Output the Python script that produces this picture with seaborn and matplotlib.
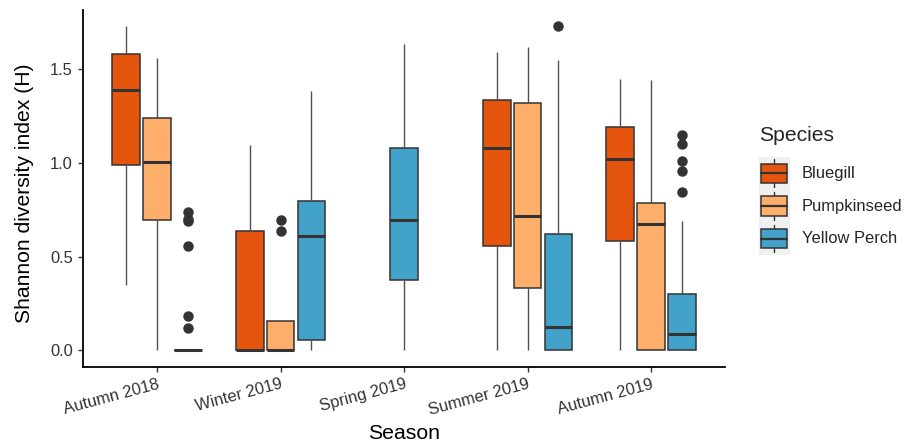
import numpy as np
import pandas as pd
import matplotlib
matplotlib.use("Agg")
import matplotlib.pyplot as plt
import seaborn as sns
from matplotlib.legend_handler import HandlerBase
from matplotlib.patches import Rectangle
from matplotlib.lines import Line2D

seasons = ["Autumn 2018", "Winter 2019", "Spring 2019", "Summer 2019", "Autumn 2019"]
species = ["Bluegill", "Pumpkinseed", "Yellow Perch"]
colors = ["#E6550D", "#FDAE6B", "#43A2CA"]

# Per season: lower whisker, Q1, median, Q3, upper whisker (None = not sampled)
bluegill_stats = [
    [0.35, 0.99, 1.39, 1.58, 1.73],
    [0.0, 0.0, 0.0, 0.635, 1.094],
    None,
    [0.0, 0.557, 1.08, 1.334, 1.59],
    [0.0, 0.583, 1.021, 1.194, 1.449],
]
pumpkinseed_stats = [
    [0.0, 0.695, 1.004, 1.238, 1.561],
    [0.0, 0.0, 0.0, 0.158, 0.158],
    None,
    [0.0, 0.335, 0.716, 1.321, 1.617],
    [0.0, 0.0, 0.676, 0.789, 1.445],
]
perch_stats = [
    [0.0, 0.0, 0.0, 0.0, 0.0],
    [0.0, 0.057, 0.612, 0.796, 1.387],
    [0.0, 0.376, 0.694, 1.08, 1.635],
    [0.0, 0.0, 0.124, 0.621, 1.55],
    [0.0, 0.0, 0.089, 0.30, 0.692],
]
# Observations beyond the upper fence
bluegill_outliers = [[], [], [], [], []]
pumpkinseed_outliers = [[], [0.635, 0.695], [], [], []]
perch_outliers = [
    [0.119, 0.185, 0.559, 0.69, 0.70, 0.741],
    [],
    [],
    [1.729],
    [0.848, 0.956, 1.013, 1.099, 1.151],
]


def sample_from_summary(stats, outliers):
    """Sorted sample whose linear quartiles, 1.5*IQR whiskers and fliers
    reproduce the given summary."""
    lo, q1, med, q3, hi = stats
    k = len(outliers) + 1
    vals = [lo] + [q1] * k + [med] * k + [q3] * k + [hi] + sorted(outliers)
    return vals


rows = []
for sp, st_list, out_list in zip(
    species,
    [bluegill_stats, pumpkinseed_stats, perch_stats],
    [bluegill_outliers, pumpkinseed_outliers, perch_outliers],
):
    for season, st, outs in zip(seasons, st_list, out_list):
        if st is None:
            continue
        for v in sample_from_summary(st, outs):
            rows.append({"Season": season, "Species": sp, "H": v})
df = pd.DataFrame(rows)

sns.set_theme(style="ticks")
plt.rcParams["font.family"] = ["Liberation Sans", "DejaVu Sans"]

fig = plt.figure(figsize=(9.07, 4.45), dpi=100)
ax = fig.add_axes([0.0915, 0.176, 0.708, 0.8015])

box_kws = dict(
    saturation=1,
    showcaps=False,
    boxprops=dict(edgecolor="#333333", linewidth=1.1),
    whiskerprops=dict(color="#505050", linewidth=1.0),
    medianprops=dict(color="#333333", linewidth=2.2),
    flierprops=dict(marker="o", markerfacecolor="#333333",
                    markeredgecolor="#333333", markersize=6.5),
    legend=False,
    ax=ax,
)

grouped = df[df["Season"] != "Spring 2019"]
sns.boxplot(data=grouped, x="Season", y="H", hue="Species", order=seasons,
            hue_order=species, palette=colors, width=0.75, gap=0.1, **box_kws)

spring = df[df["Season"] == "Spring 2019"]
sns.boxplot(data=spring, x="Season", y="H", order=seasons, color=colors[2],
            width=0.225, **box_kws)

ax.set_xlim(-0.6, 4.6)
ax.set_ylim(-0.0865, 1.8165)
ax.set_yticks([0.0, 0.5, 1.0, 1.5])
ax.set_yticklabels(["0.0", "0.5", "1.0", "1.5"])
ax.set_xticks(range(len(seasons)))
ax.set_xticklabels(seasons, rotation=15, ha="right", rotation_mode="anchor")

for side in ["top", "right"]:
    ax.spines[side].set_visible(False)
for side in ["left", "bottom"]:
    ax.spines[side].set_color("black")
    ax.spines[side].set_linewidth(1.3)

ax.tick_params(axis="both", length=3.6, width=1.0, color="#333333",
               labelsize=11.9, labelcolor="#333333", pad=3.6)

ax.set_xlabel("Season", fontsize=15.3, color="black")
ax.set_ylabel("Shannon diversity index (H)", fontsize=15.2, color="black")
ax.xaxis.set_label_coords(0.5, -0.161)
ax.yaxis.set_label_coords(-0.076, 0.487)


class BoxKey(HandlerBase):
    def __init__(self, face):
        super().__init__()
        self.face = face

    def create_artists(self, legend, orig_handle, xdescent, ydescent,
                       width, height, fontsize, trans):
        x0, y0 = -xdescent, -ydescent
        bg = Rectangle((x0, y0), width, height, facecolor="#F0F0F0",
                       edgecolor="none", transform=trans)
        cx = x0 + width / 2
        whisk = Line2D([cx, cx], [y0 + 0.07 * height, y0 + 0.93 * height],
                       color="#333333", lw=1.0, transform=trans)
        box = Rectangle((x0 + 0.08 * width, y0 + 0.2 * height),
                        0.83 * width, 0.6 * height, facecolor=self.face,
                        edgecolor="#333333", lw=1.1, transform=trans)
        med = Line2D([x0 + 0.08 * width, x0 + 0.91 * width],
                     [y0 + 0.5 * height] * 2, color="#333333", lw=1.6,
                     transform=trans)
        return [bg, whisk, box, med]


handles = [Rectangle((0, 0), 1, 1) for _ in species]
leg = fig.legend(
    handles, species,
    handler_map={h: BoxKey(c) for h, c in zip(handles, colors)},
    loc="center left", bbox_to_anchor=(0.8368, 0.5725), borderaxespad=0,
    frameon=False, fontsize=11.9, title="Species", title_fontsize=15.2,
    handlelength=1.85, handleheight=2.65, labelspacing=0.0,
    handletextpad=0.75, borderpad=0, alignment="left",
)
# space between the legend title and the first key
leg._legend_box.sep = 9

fig.savefig("out.png", dpi=100)
